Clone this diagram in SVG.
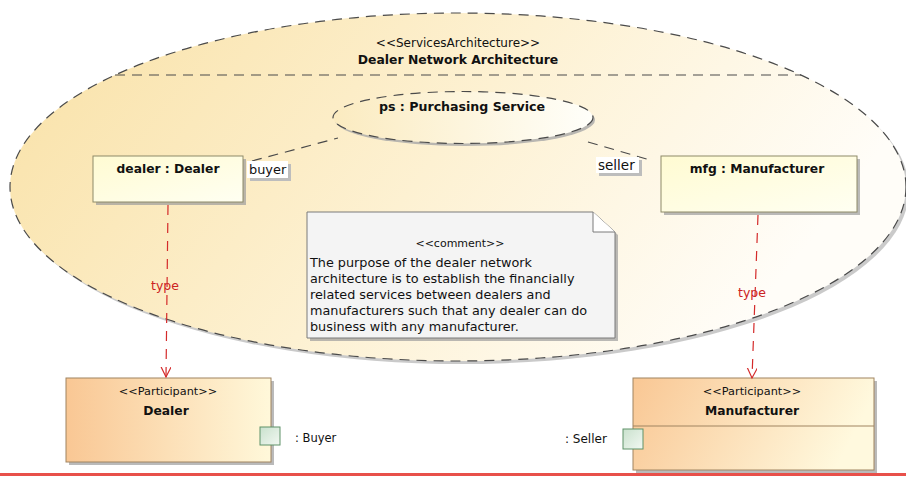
<svg xmlns="http://www.w3.org/2000/svg" width="906" height="487" viewBox="0 0 906 487">
<defs>
<linearGradient id="gBig" x1="0" y1="0" x2="1" y2="0.3">
<stop offset="0" stop-color="#F9E1A6"/>
<stop offset="0.55" stop-color="#FDF1D2"/>
<stop offset="1" stop-color="#FFFDF8"/>
</linearGradient>
<linearGradient id="gPs" x1="0" y1="0" x2="1" y2="0">
<stop offset="0" stop-color="#FBEBC0"/>
<stop offset="1" stop-color="#FFFFFA"/>
</linearGradient>
<linearGradient id="gPart" x1="0" y1="0" x2="1" y2="0">
<stop offset="0" stop-color="#F9C794"/>
<stop offset="1" stop-color="#FFF8DA"/>
</linearGradient>
<linearGradient id="gPartR" x1="0" y1="0" x2="1" y2="0.2">
<stop offset="0" stop-color="#F9C794"/>
<stop offset="1" stop-color="#FFF9DE"/>
</linearGradient>
<linearGradient id="gRole" x1="0" y1="0" x2="1" y2="1">
<stop offset="0" stop-color="#FFFBD2"/>
<stop offset="1" stop-color="#FFFFF2"/>
</linearGradient>
<linearGradient id="gPort" x1="0" y1="0" x2="1" y2="1">
<stop offset="0" stop-color="#C9E1CD"/>
<stop offset="1" stop-color="#F2F8F2"/>
</linearGradient>
<marker id="arr" markerUnits="userSpaceOnUse" markerWidth="12" markerHeight="12" refX="10" refY="5" orient="auto">
<path d="M0,0 L10,5 L0,10" fill="none" stroke="#D42A2A" stroke-width="1.2"/>
</marker>
</defs>
<style>
text{font-family:"DejaVu Sans","Liberation Sans",sans-serif;fill:#111}
.b{font-weight:bold}
.c{text-anchor:middle}
.dash{fill:none;stroke:#4a4a4a;stroke-width:1.2;stroke-dasharray:10 7}
.shadow{fill:#9c9c9c;opacity:0.7}
.role{fill:url(#gRole);stroke:#8E8A68;stroke-width:1}
.part{stroke:#A08460;stroke-width:1}
.port{fill:url(#gPort);stroke:#5E9268;stroke-width:1}
.type{fill:none;stroke:#D42A2A;stroke-width:1.2;stroke-dasharray:10 8}
.red{fill:#CC2222}
</style>
<rect width="906" height="487" fill="#FFFFFF"/>

<g id="services-architecture">
<ellipse cx="461" cy="190" rx="448" ry="174" fill="#BDBDBD" opacity="0.8"/>
<ellipse cx="458" cy="187" rx="448" ry="174" fill="url(#gBig)"/>
<ellipse cx="458" cy="187" rx="448" ry="174" class="dash"/>
<line x1="115" y1="75" x2="801" y2="75" class="dash"/>
<text x="458" y="47" class="c" font-size="12">&lt;&lt;ServicesArchitecture&gt;&gt;</text>
<text x="458" y="64" class="c b" font-size="12.4">Dealer Network Architecture</text>
</g>

<g id="ps">
<ellipse cx="465" cy="120" rx="130" ry="26" fill="#A8A8A8" opacity="0.8"/>
<ellipse cx="463" cy="117.5" rx="130" ry="26" fill="url(#gPs)"/>
<ellipse cx="463" cy="117.5" rx="130" ry="26" class="dash"/>
<text x="462" y="111" class="c b" font-size="12.6">ps : Purchasing Service</text>
</g>

<g id="dealer-role">
<rect x="96" y="159" width="150" height="46" class="shadow"/>
<rect x="93" y="156" width="150" height="46" class="role"/>
<text x="168" y="173" class="c b" font-size="12.3">dealer : Dealer</text>
</g>

<g id="mfg-role">
<rect x="664" y="159" width="196" height="56" class="shadow"/>
<rect x="661" y="156" width="196" height="56" class="role"/>
<text x="757" y="173" class="c b" font-size="12.3">mfg : Manufacturer</text>
</g>

<g id="comment">
<polygon points="310,215 596,215 618,235 618,341 310,341" class="shadow"/>
<polygon points="307,212 593,212 615,232 615,338 307,338" fill="#F4F4F4" stroke="#7A7A7A" stroke-width="1"/>
<polyline points="593,212 593,232 615,232" fill="#FFFFFF" stroke="#7A7A7A" stroke-width="1"/>
<text x="460" y="247" class="c" font-size="11">&lt;&lt;comment&gt;&gt;</text>
<text x="310" y="267" font-size="12.8">The purpose of the dealer network</text>
<text x="310" y="283" font-size="12.8">architecture is to establish the financially</text>
<text x="310" y="299" font-size="12.8">related services between dealers and</text>
<text x="310" y="315" font-size="12.8">manufacturers such that any dealer can do</text>
<text x="310" y="331" font-size="12.8">business with any manufacturer.</text>
</g>

<g id="participant-dealer">
<rect x="69" y="381" width="205" height="84" class="shadow"/>
<rect x="66" y="378" width="205" height="84" fill="url(#gPart)" class="part"/>
<text x="168" y="395" class="c" font-size="11.3">&lt;&lt;Participant&gt;&gt;</text>
<text x="166" y="415" class="c b" font-size="12.3">Dealer</text>
<rect x="260" y="427" width="20" height="18" class="port"/>
<text x="295" y="442" font-size="11.5">: Buyer</text>
</g>

<g id="participant-manufacturer">
<rect x="636" y="381" width="241" height="92" class="shadow"/>
<rect x="633" y="378" width="241" height="92" fill="url(#gPartR)" class="part"/>
<line x1="633" y1="426" x2="874" y2="426" stroke="#A08460" stroke-width="1"/>
<text x="752" y="395" class="c" font-size="11.3">&lt;&lt;Participant&gt;&gt;</text>
<text x="752" y="415" class="c b" font-size="12.3">Manufacturer</text>
<rect x="623" y="429" width="20" height="20" class="port"/>
<text x="565" y="443" font-size="12">: Seller</text>
</g>

<g id="connectors">
<line x1="252" y1="161" x2="338" y2="138" class="dash"/>
<line x1="588" y1="142" x2="650" y2="160" class="dash"/>
<rect x="250" y="164" width="41" height="17" fill="#BDBDBD"/>
<rect x="247" y="161" width="41" height="17" fill="#FFFFFF"/>
<text x="249" y="174" font-size="12.9">buyer</text>
<rect x="599" y="160" width="43" height="16" fill="#BDBDBD"/>
<rect x="596" y="157" width="43" height="16" fill="#FFFFFF"/>
<text x="598" y="170" font-size="13.5">seller</text>
<line x1="168" y1="205" x2="166" y2="377" class="type" marker-end="url(#arr)"/>
<line x1="758" y1="215" x2="752" y2="378" class="type" marker-end="url(#arr)"/>
<text x="165" y="290" class="c red" font-size="12.5">type</text>
<text x="752" y="297" class="c red" font-size="12.5">type</text>
</g>

<rect x="0" y="473" width="906" height="3" fill="#E8504A"/>
</svg>
